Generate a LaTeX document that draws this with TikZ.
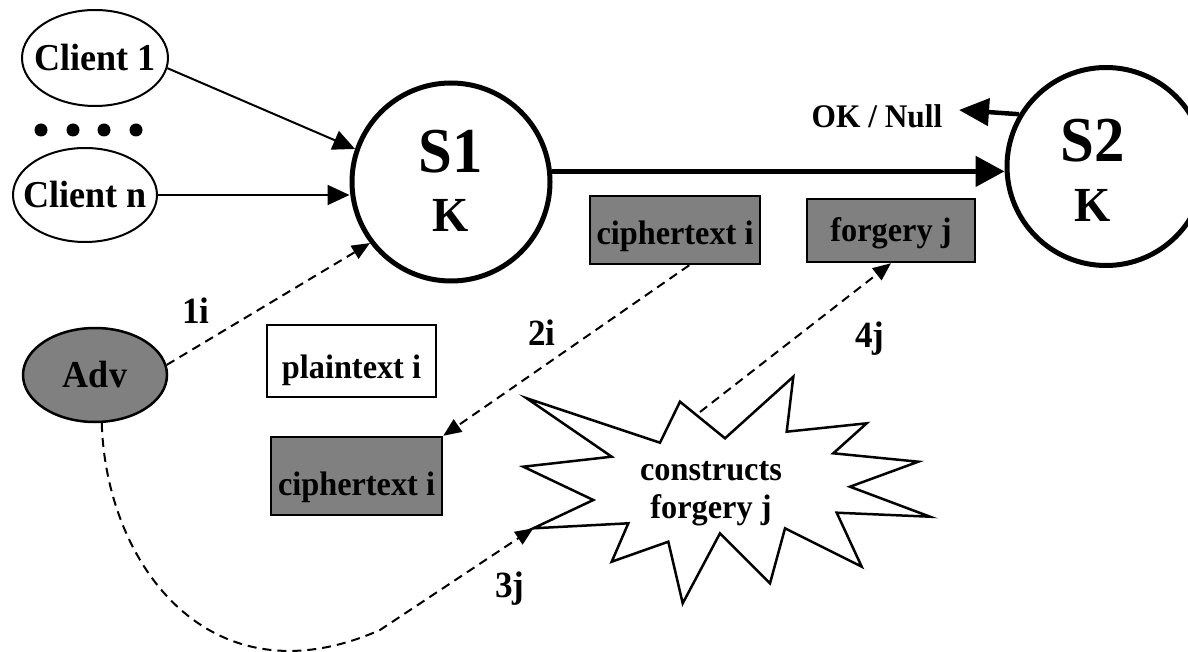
\documentclass[tikz,border=0pt]{standalone}
\usepackage{fontspec}
\setmainfont{Liberation Serif}[FakeStretch=0.95]
\usetikzlibrary{arrows.meta,shapes.geometric}
\definecolor{boxgray}{RGB}{128,128,128}
\begin{document}
\begin{tikzpicture}[x=1pt,y=-1pt,
  lbl/.style={font=\fontsize{34}{38}\selectfont\bfseries, inner sep=0pt},
  numlbl/.style={font=\fontsize{37}{40}\selectfont\bfseries, inner sep=0pt, anchor=base},
  biglbl/.style={font=\fontsize{38}{40}\selectfont\bfseries, inner sep=0pt},
  srvtxt/.style={font=\fontsize{64}{66}\selectfont\bfseries, inner sep=0pt, anchor=base},
  srvk/.style={font=\fontsize{49}{50}\selectfont\bfseries, inner sep=0pt, anchor=base},
  ell/.style={ellipse, draw, line width=2pt, inner sep=0pt},
  srvc/.style={circle, draw, line width=5pt, minimum size=198pt, inner sep=0pt},
  msg/.style={draw, line width=2pt, inner sep=0pt, font=\fontsize{34}{38}\selectfont\bfseries},
  gmsg/.style={msg, fill=boxgray, line width=2.5pt},
  solidarr/.style={line width=2pt, -{Triangle[length=22pt,width=20pt]}},
  thickarr/.style={line width=5pt, -{Triangle[length=29pt,width=30pt]}},
  okarr/.style={line width=4.5pt, -{Triangle[length=30pt,width=27pt]}},
  dasharr/.style={line width=2pt, dash pattern=on 9pt off 6pt, -{Triangle[length=18pt,width=15pt]}},
  burst/.style={draw, line width=2.5pt, fill=white}
]
\useasboundingbox (0,0) rectangle (1188,652);

% clients
\node[ell, minimum width=146pt, minimum height=96pt,
      label={[biglbl,name=c1t]center:Client 1}] (c1) at (95,58) {};
\node[ell, minimum width=144pt, minimum height=94pt,
      label={[biglbl,name=cnt]center:Client n}] (cn) at (85,195) {};
\foreach \xx in {41,73,104,136} \fill (\xx,130) circle (6.5pt);

% adversary
\node[ell, fill=boxgray, line width=2.5pt, minimum width=144pt, minimum height=94pt,
      label={[biglbl,name=advt]center:Adv}] (adv) at (95,375) {};

% servers
\node[srvc] (s1) at (451,182) {};
\node[srvtxt] (s1a) at (451,173) {S1};
\node[srvk] (s1b) at (451,232) {K};
\node[srvc] (s2) at (1106,166.5) {};
\node[srvtxt] (s2a) at (1093,162) {S2};
\node[srvk] (s2b) at (1093,222) {K};

\node[font=\fontsize{33}{36}\selectfont\bfseries, inner sep=0pt, anchor=base] (ok) at (877,128) {OK / Null};
\coordinate (oktip) at (959,110);

% messages
\node[msg, minimum width=169pt, minimum height=72pt, text height=53pt, text depth=19pt] (pt) at (351.5,361) {plaintext i};
\node[gmsg, minimum width=171pt, minimum height=78pt, text height=58pt, text depth=20pt] (cl) at (356.5,476) {ciphertext i};
\node[gmsg, minimum width=170pt, minimum height=68pt, text height=49pt, text depth=19pt] (cu) at (675,230) {ciphertext i};
\node[gmsg, minimum width=168pt, minimum height=63pt, text height=43pt, text depth=20pt] (fj) at (891,230.5) {forgery j};

% starburst
\draw[burst] (533.3,528.3) -- (628.3,523.3) -- (611.7,561.7) -- (668.3,541.7) -- (682.7,603.3)
  -- (720,533.3) -- (770,583.3) -- (785,528.3) -- (861.7,566.7) -- (836.7,512.7)
  -- (930,516.7) -- (850,486.7) -- (918.3,461.7) -- (833.3,453.3) -- (866.7,423.3)
  -- (786.7,431.7) -- (793.3,376.7) -- (725,438.3) -- (680,401.7) -- (660,442.7)
  -- (526.7,398.3) -- (611.7,456.7) -- (523.3,466.7) -- (593.3,500) -- cycle;
\node[lbl, align=center] (cons) at (711,494) {constructs\\forgery j};
\coordinate (burstL) at (533.3,528.3);
\coordinate (burstT) at (700,412);
\coordinate (bend) at (380,630);

% connectors
\draw[solidarr] (c1.-8) -- (s1.161);
\draw[solidarr] (cn.east) -- (s1.west |- cn.east);
\draw[thickarr] (s1.6) -- (s1.6 -| s2.west);
\draw[okarr] (s2.149) -- (oktip);
\draw[dasharr] (adv.8) -- (s1.217);
\draw[dasharr] (adv.-82) .. controls (106,565) and (210,705) .. (bend) -- (burstL);
\draw[dasharr] (cu.-68) -- (cl.north east);
\draw[dasharr] (burstT) -- (fj.south);

% step labels
\node[numlbl] (l1) at (196,323) {1i};
\node[numlbl] (l2) at (542,345) {2i};
\node[numlbl] (l3) at (510,597) {3j};
\node[numlbl] (l4) at (870,347) {4j};
\end{tikzpicture}
\end{document}
